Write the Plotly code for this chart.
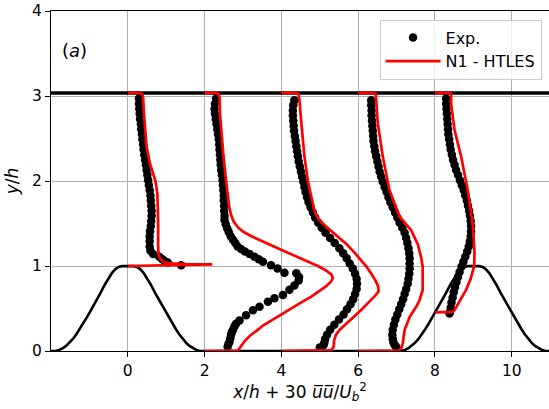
import plotly.graph_objects as go

# Profile stations x/h
stations = [0, 2, 4, 6, 8]

# Hill half-profile (distance from crest, height), periodic hill, period 9h
hill_d = [0.0, 0.08, 0.161, 0.24, 0.321, 0.41, 0.5, 0.6, 0.714, 0.8, 0.893, 0.98,
          1.071, 1.16, 1.25, 1.34, 1.429, 1.52, 1.607, 1.70, 1.786, 1.86, 1.929]
hill_h = [1.0, 0.9995, 0.998, 0.988, 0.964, 0.919, 0.857, 0.78, 0.68, 0.61, 0.532, 0.464,
          0.393, 0.325, 0.259, 0.197, 0.142, 0.096, 0.06, 0.03, 0.012, 0.003, 0.0]
wall_y = 3.036

# Experimental data: y/h and 30*uu/Ub^2
exp_y_0 = [2.97, 2.91, 2.85, 2.79, 2.73, 2.67, 2.61, 2.55, 2.49, 2.43, 2.37, 2.31, 2.25,
           2.19, 2.13, 2.07, 2.01, 1.95, 1.89, 1.83, 1.77, 1.71, 1.65, 1.59, 1.53, 1.47,
           1.41, 1.35, 1.29, 1.23, 1.18, 1.14, 1.11, 1.08, 1.06, 1.04, 1.01]
exp_s_0 = [0.29, 0.29, 0.30, 0.31, 0.32, 0.34, 0.35, 0.37, 0.38, 0.40, 0.41, 0.43, 0.45,
           0.47, 0.49, 0.51, 0.53, 0.55, 0.57, 0.59, 0.60, 0.61, 0.62, 0.62, 0.61, 0.60,
           0.58, 0.57, 0.57, 0.57, 0.59, 0.66, 0.82, 0.90, 0.96, 1.04, 1.39]

exp_y_2 = [2.97, 2.91, 2.85, 2.79, 2.73, 2.67, 2.61, 2.55, 2.49, 2.43, 2.37, 2.31, 2.25,
           2.19, 2.13, 2.07, 2.01, 1.95, 1.89, 1.83, 1.77, 1.71, 1.65, 1.59, 1.54, 1.49,
           1.44, 1.40, 1.35, 1.31, 1.27, 1.23, 1.20, 1.17, 1.14, 1.11, 1.08, 1.05, 1.01,
           0.97, 0.92, 0.915, 0.87, 0.83, 0.77, 0.72, 0.66, 0.62, 0.58, 0.52, 0.48, 0.42,
           0.36, 0.32, 0.29, 0.25, 0.22, 0.19, 0.15, 0.11, 0.08, 0.05]
exp_s_2 = [0.30, 0.27, 0.26, 0.27, 0.29, 0.31, 0.33, 0.35, 0.37, 0.38, 0.39, 0.40, 0.41,
           0.42, 0.43, 0.45, 0.47, 0.48, 0.49, 0.50, 0.50, 0.51, 0.51, 0.52, 0.52, 0.55,
           0.59, 0.63, 0.68, 0.74, 0.80, 0.86, 0.95, 1.05, 1.17, 1.30, 1.41, 1.52, 1.73,
           1.90, 2.08, 2.39, 2.46, 2.45, 2.34, 2.21, 2.04, 1.82, 1.65, 1.43, 1.26, 1.08,
           0.91, 0.82, 0.78, 0.74, 0.71, 0.69, 0.67, 0.65, 0.62, 0.60]

exp_y_4 = [2.95, 2.89, 2.83, 2.77, 2.71, 2.65, 2.59, 2.53, 2.47, 2.41, 2.35, 2.29, 2.23,
           2.17, 2.11, 2.05, 1.99, 1.93, 1.87, 1.81, 1.75, 1.69, 1.63, 1.57, 1.51, 1.45,
           1.39, 1.33, 1.27, 1.21, 1.15, 1.09, 1.03, 0.97, 0.91, 0.85, 0.79, 0.73, 0.67,
           0.61, 0.55, 0.49, 0.43, 0.37, 0.31, 0.25, 0.19, 0.14, 0.10, 0.07, 0.04]
exp_s_4 = [0.34, 0.31, 0.30, 0.30, 0.31, 0.32, 0.33, 0.35, 0.37, 0.39, 0.41, 0.43, 0.45,
           0.48, 0.51, 0.54, 0.57, 0.60, 0.63, 0.67, 0.71, 0.76, 0.82, 0.88, 0.96, 1.05,
           1.15, 1.27, 1.39, 1.51, 1.61, 1.70, 1.78, 1.86, 1.92, 1.96, 1.97, 1.96, 1.92,
           1.87, 1.80, 1.71, 1.62, 1.50, 1.38, 1.27, 1.19, 1.14, 1.12, 1.10, 1.00]

exp_y_6 = [2.95, 2.89, 2.83, 2.77, 2.71, 2.65, 2.59, 2.53, 2.47, 2.41, 2.35, 2.29, 2.23,
           2.17, 2.11, 2.05, 1.99, 1.93, 1.87, 1.81, 1.75, 1.69, 1.63, 1.57, 1.51, 1.45,
           1.39, 1.33, 1.27, 1.21, 1.15, 1.09, 1.03, 0.97, 0.91, 0.85, 0.79, 0.73, 0.67,
           0.61, 0.55, 0.49, 0.43, 0.37, 0.31, 0.25, 0.19, 0.14, 0.10, 0.07, 0.05]
exp_s_6 = [0.34, 0.34, 0.35, 0.35, 0.36, 0.37, 0.38, 0.39, 0.40, 0.42, 0.44, 0.47, 0.50,
           0.53, 0.56, 0.60, 0.64, 0.69, 0.74, 0.79, 0.84, 0.90, 0.96, 1.02, 1.08, 1.15,
           1.21, 1.25, 1.28, 1.31, 1.33, 1.34, 1.34, 1.34, 1.33, 1.31, 1.29, 1.25, 1.21,
           1.17, 1.12, 1.07, 1.02, 0.97, 0.93, 0.90, 0.89, 0.90, 0.92, 0.95, 0.99]

exp_y_8 = [2.97, 2.91, 2.85, 2.79, 2.73, 2.67, 2.61, 2.55, 2.49, 2.43, 2.37, 2.31, 2.25,
           2.19, 2.13, 2.07, 2.01, 1.95, 1.89, 1.83, 1.77, 1.71, 1.65, 1.59, 1.53, 1.47,
           1.41, 1.35, 1.29, 1.23, 1.17, 1.11, 1.05, 0.99, 0.93, 0.87, 0.81, 0.75, 0.69,
           0.63, 0.57, 0.51, 0.46, 0.44]
exp_s_8 = [0.29, 0.29, 0.30, 0.31, 0.32, 0.33, 0.34, 0.35, 0.37, 0.39, 0.41, 0.44, 0.47,
           0.51, 0.55, 0.60, 0.65, 0.70, 0.75, 0.79, 0.83, 0.86, 0.89, 0.91, 0.93, 0.94,
           0.94, 0.93, 0.91, 0.88, 0.84, 0.79, 0.74, 0.69, 0.64, 0.60, 0.56, 0.52, 0.49,
           0.46, 0.43, 0.41, 0.39, 0.38]

# N1 - HTLES: y/h and 30*uu/Ub^2
les_y_0 = [3.036, 3.036, 3.02, 2.98, 2.80, 2.60, 2.40, 2.20, 2.00, 1.85, 1.75, 1.50,
           1.25, 1.13, 1.08, 1.05, 1.03, 1.02, 1.018, 1.0]
les_s_0 = [0.0, 0.33, 0.38, 0.40, 0.42, 0.45, 0.49, 0.58, 0.72, 0.77, 0.78, 0.79,
           0.79, 0.80, 0.85, 0.93, 1.10, 1.60, 2.20, 0.0]

les_y_2 = [3.036, 3.036, 3.02, 2.98, 2.80, 2.60, 2.30, 2.00, 1.80, 1.70, 1.60, 1.52,
           1.45, 1.40, 1.35, 1.30, 1.24, 1.18, 1.12, 1.06, 1.00, 0.95, 0.90, 0.86,
           0.82, 0.76, 0.70, 0.64, 0.58, 0.51, 0.44, 0.37, 0.30, 0.24, 0.18, 0.12,
           0.07, 0.03, 0.005, 0.0]
les_s_2 = [0.0, 0.30, 0.37, 0.39, 0.40, 0.43, 0.49, 0.56, 0.61, 0.64, 0.69, 0.76,
           0.88, 1.02, 1.22, 1.45, 1.75, 2.05, 2.35, 2.65, 2.95, 3.15, 3.30, 3.34,
           3.30, 3.16, 2.98, 2.78, 2.55, 2.30, 2.03, 1.77, 1.52, 1.36, 1.18, 1.05,
           0.97, 0.92, 0.87, 0.0]

les_y_4 = [3.036, 3.036, 3.02, 2.95, 2.68, 2.29, 2.00, 1.80, 1.65, 1.55, 1.46, 1.36,
           1.26, 1.16, 1.07, 0.99, 0.91, 0.83, 0.76, 0.70, 0.64, 0.56, 0.48, 0.40,
           0.32, 0.25, 0.19, 0.12, 0.05, 0.01, 0.0]
les_s_4 = [0.0, 0.38, 0.45, 0.47, 0.52, 0.60, 0.69, 0.78, 0.86, 0.97, 1.17, 1.43,
           1.69, 1.90, 2.08, 2.22, 2.34, 2.45, 2.52, 2.53, 2.42, 2.25, 2.07, 1.88,
           1.68, 1.52, 1.42, 1.37, 1.36, 1.30, 0.0]

les_y_6 = [3.036, 3.036, 3.02, 2.91, 2.68, 2.29, 1.90, 1.58, 1.42, 1.26, 1.10, 0.99,
           0.85, 0.72, 0.60, 0.52, 0.40, 0.25, 0.09, 0.03, 0.005, 0.0]
les_s_6 = [0.0, 0.40, 0.46, 0.47, 0.51, 0.64, 0.81, 1.08, 1.38, 1.55, 1.64, 1.68,
           1.69, 1.68, 1.60, 1.51, 1.34, 1.21, 1.16, 1.12, 1.05, 0.0]

les_y_8 = [3.036, 3.036, 3.02, 2.91, 2.60, 2.29, 1.90, 1.50, 1.31, 1.15, 1.00, 0.85,
           0.72, 0.60, 0.48, 0.46, 0.455]
les_s_8 = [0.0, 0.40, 0.42, 0.42, 0.51, 0.68, 0.85, 0.98, 1.01, 1.03, 1.02, 0.93,
           0.81, 0.66, 0.51, 0.45, 0.0]

exp_y = [exp_y_0, exp_y_2, exp_y_4, exp_y_6, exp_y_8]
exp_s = [exp_s_0, exp_s_2, exp_s_4, exp_s_6, exp_s_8]
les_y = [les_y_0, les_y_2, les_y_4, les_y_6, les_y_8]
les_s = [les_s_0, les_s_2, les_s_4, les_s_6, les_s_8]

FONT = "DejaVu Sans"


def _join(xs_list, ys_list):
    xs, ys = [], []
    for x0, s, y in zip(stations, xs_list, ys_list):
        xs += [x0 + v for v in s] + [None]
        ys += list(y) + [None]
    return xs, ys


# Bottom geometry: two hills (crest at 0 and 9) joined by flat floor
one_x = [-d for d in reversed(hill_d)] + hill_d[1:]
one_y = list(reversed(hill_h)) + hill_h[1:]
geom_x = [-2.0] + one_x + [9.0 + x for x in one_x] + [11.0]
geom_y = [0.0] + one_y + one_y + [0.0]

fig = go.Figure()

fig.add_trace(go.Scatter(x=geom_x, y=geom_y, mode="lines", showlegend=False,
                         line=dict(color="black", width=2.6)))
fig.add_trace(go.Scatter(x=[-2, 11], y=[wall_y, wall_y], mode="lines", showlegend=False,
                         line=dict(color="black", width=3.6)))

ex, ey = _join(exp_s, exp_y)
fig.add_trace(go.Scatter(x=ex, y=ey, mode="markers", name="Exp.",
                         marker=dict(color="black", size=8.5, line=dict(width=0))))

lx, ly = _join(les_s, les_y)
fig.add_trace(go.Scatter(x=lx, y=ly, mode="lines", name="N1 - HTLES",
                         line=dict(color="red", width=2.7)))

fig.add_annotation(x=-1.39, y=3.53, text="(<i>a</i>)", showarrow=False,
                   font=dict(family=FONT, size=18, color="black"))

axis_common = dict(
    showgrid=True, gridcolor="#b0b0b0", gridwidth=1, automargin=False,
    zeroline=False, showline=True, linecolor="black", linewidth=1.2,
    ticks="outside", ticklen=5, tickwidth=1, tickcolor="black",
    tickfont=dict(family=FONT, size=15.5, color="black"),
)

fig.update_layout(
    width=549, height=409,
    margin=dict(l=51, r=0, t=11, b=58),
    paper_bgcolor="white", plot_bgcolor="white",
    font=dict(family=FONT, color="black"),
    xaxis=dict(range=[-2, 10.97], tickvals=[0, 2, 4, 6, 8, 10], mirror=True,
               title=dict(text="<i>x</i>/<i>h</i> + 30 <i>u\u0305u\u0305</i>/<i>U</i><sub><i>b</i></sub><sup>2</sup>",
                          font=dict(family=FONT, size=17), standoff=4),
               **axis_common),
    yaxis=dict(range=[0, 4], tickvals=[0, 1, 2, 3, 4],
               title=dict(text="<i>y</i>/<i>h</i>", font=dict(family=FONT, size=17), standoff=8),
               **axis_common),
    legend=dict(x=0.985, y=0.975, xanchor="right", yanchor="top",
                bgcolor="rgba(255,255,255,0.8)", bordercolor="#cccccc", borderwidth=1,
                font=dict(family=FONT, size=16), itemwidth=55, tracegroupgap=0),
    showlegend=True,
)

# drop the browser's default 8px body margin so the figure sits at the page origin
fig.write_html("out.html", config={"displayModeBar": False},
               post_script="document.body.style.margin='0';")
